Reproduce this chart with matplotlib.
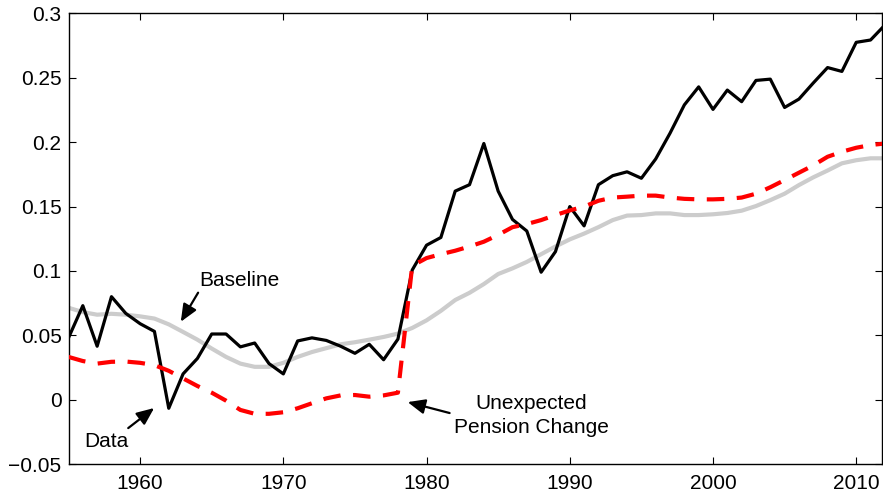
import matplotlib
matplotlib.use("Agg")
import matplotlib.pyplot as plt
import numpy as np
from matplotlib.ticker import FuncFormatter

years = list(range(1955, 2013))

data = [0.048, 0.073, 0.0415, 0.080, 0.067, 0.059, 0.053, -0.0067, 0.020, 0.032,
        0.051, 0.051, 0.041, 0.044, 0.028, 0.020, 0.0456, 0.048, 0.046, 0.0415,
        0.036, 0.043, 0.031, 0.047, 0.1007, 0.120, 0.126, 0.162, 0.167, 0.199,
        0.162, 0.140, 0.131, 0.099, 0.115, 0.150, 0.135, 0.167, 0.174, 0.177,
        0.172, 0.187, 0.207, 0.229, 0.243, 0.2255, 0.2405, 0.2315, 0.248, 0.249,
        0.227, 0.2335, 0.246, 0.258, 0.255, 0.2776, 0.2794, 0.291]

baseline = [0.0714, 0.068, 0.066, 0.0667, 0.066, 0.0647, 0.063, 0.0585, 0.0526, 0.0466,
            0.0397, 0.0332, 0.028, 0.0255, 0.0255, 0.0286, 0.0332, 0.037, 0.040, 0.043,
            0.0446, 0.0466, 0.0487, 0.0513, 0.0557, 0.0616, 0.069, 0.0774, 0.083, 0.0898,
            0.0976, 0.102, 0.107, 0.113, 0.119, 0.1245, 0.129, 0.134, 0.1395, 0.143,
            0.1434, 0.1447, 0.1447, 0.1434, 0.1434, 0.144, 0.145, 0.1468, 0.1504, 0.155,
            0.160, 0.1667, 0.1727, 0.178, 0.1836, 0.186, 0.1875, 0.1875]

pension = [0.0332, 0.030, 0.028, 0.0294, 0.0296, 0.0286, 0.0268, 0.0224, 0.0165, 0.0106,
           0.0054, -0.0008, -0.008, -0.011, -0.011, -0.0098, -0.0067, -0.0028, 0.001, 0.0033,
           0.0036, 0.0023, 0.0033, 0.0054, 0.104, 0.110, 0.113, 0.1157, 0.119, 0.1227,
           0.128, 0.134, 0.1364, 0.1395, 0.1434, 0.147, 0.150, 0.1545, 0.157, 0.1577,
           0.1585, 0.1585, 0.157, 0.156, 0.1556, 0.1556, 0.156, 0.157, 0.160, 0.165,
           0.1706, 0.1763, 0.182, 0.1887, 0.1926, 0.1957, 0.1978, 0.199]

yticks = [-0.05, 0, 0.05, 0.1, 0.15, 0.2, 0.25, 0.3]
xticks = [1960, 1970, 1980, 1990, 2000, 2010]

plt.rcParams['font.family'] = ['Liberation Sans', 'DejaVu Sans']

fig = plt.figure(figsize=(8.83, 4.96), dpi=100)
ax = fig.add_axes([68.5 / 883, 32 / 496, (882 - 68.5) / 883, (464 - 13.5) / 496])

ax.plot(years, baseline, color='#cccccc', lw=3.0, solid_capstyle='butt', zorder=2)
ax.plot(years, data, color='black', lw=2.3, zorder=3)
ax.plot(years, pension, color='red', lw=3.0, dashes=(4.2, 3.0), zorder=4)

ax.set_xlim(1955, 2011.8)
ax.set_ylim(-0.05, 0.3)
ax.set_xticks(xticks)
ax.set_yticks(yticks)
ax.yaxis.set_major_formatter(FuncFormatter(lambda v, p: ('%g' % v).replace('-', '\u2212')))
ax.tick_params(direction='in', length=5, width=0.8, top=True, right=True,
               labelsize=15, pad=5, colors='black')
ax.tick_params(axis='x', pad=7)
for s in ax.spines.values():
    s.set_linewidth(1.0)

arrowprops = dict(arrowstyle='-|>,head_length=0.7,head_width=0.3', color='black',
                  lw=1.6, mutation_scale=15, shrinkA=0, shrinkB=0)

ax.annotate('', xy=(1962.84, 0.0605), xytext=(1964.05, 0.0831), arrowprops=arrowprops)
ax.text(1966.94, 0.0929, 'Baseline', fontsize=15, ha='center', va='center')

ax.annotate('', xy=(1960.98, -0.0065), xytext=(1959.17, -0.0221), arrowprops=arrowprops)
ax.text(1957.63, -0.0327, 'Data', fontsize=15, ha='center', va='center')

ax.annotate('', xy=(1978.68, -0.0019), xytext=(1981.61, -0.0104), arrowprops=arrowprops)
ax.text(1987.3, -0.0125, 'Unexpected\nPension Change', fontsize=15, ha='center',
        va='center', linespacing=1.3)

fig.savefig('out.png', dpi=100)
